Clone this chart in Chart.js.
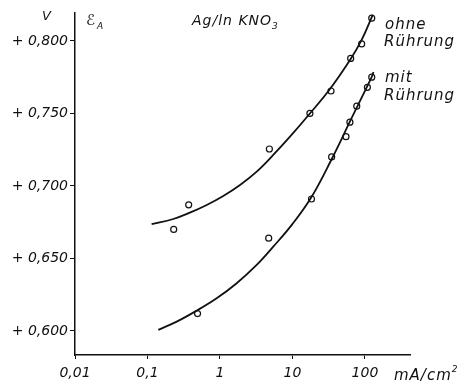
<!DOCTYPE html>
<html>
<head>
<meta charset="utf-8">
<script src="https://cdn.jsdelivr.net/npm/chart.js@4/dist/chart.umd.min.js"></script>
<style>
  html, body { margin: 0; padding: 0; background: #fff; }
  #wrap { width: 464px; height: 386px; }
</style>
</head>
<body>
<div id="wrap"><canvas id="chart" width="464" height="386"></canvas></div>
<script>
// measured points, ohne Rührung (x in mA/cm2, y in V)
const ohneX = [0.23, 0.37, 4.8, 17.4, 34, 63.5, 90, 124];
const ohneY = [0.670, 0.687, 0.7255, 0.750, 0.7655, 0.788, 0.798, 0.8157];

// measured points, mit Rührung
const mitX = [0.49, 4.7, 18.3, 34.7, 54.7, 62, 77, 108, 124];
const mitY = [0.612, 0.664, 0.691, 0.720, 0.734, 0.744, 0.755, 0.768, 0.775];

// drawn curves
const ohneCurveX = [0.114, 0.227, 0.385, 0.656, 1.11, 1.89, 3.21, 5.43, 9.24, 17.4, 32.9, 63.5, 90, 128];
const ohneCurveY = [0.6736, 0.6772, 0.6816, 0.6869, 0.6931, 0.7007, 0.7099, 0.7214, 0.734, 0.750, 0.7669, 0.7876, 0.8007, 0.818];
const mitCurveX = [0.141, 0.253, 0.452, 0.90, 1.70, 3.21, 5.43, 9.84, 18.3, 34.8, 65.6, 124, 131];
const mitCurveY = [0.6007, 0.6064, 0.6133, 0.6225, 0.6329, 0.6455, 0.6581, 0.6733, 0.6924, 0.7186, 0.7469, 0.7752, 0.7786];

// axis ticks
const xTicks = [0.01, 0.1, 1, 10, 100];
const xTickLabels = ['0,01', '0,1', '1', '10', '100'];
const yTicks = [0.600, 0.650, 0.700, 0.750, 0.800];
const yTickLabels = ['+ 0,600', '+ 0,650', '+ 0,700', '+ 0,750', '+ 0,800'];

const INK = '#111';
const FONT = 'DejaVu Sans';
const tickFont = { family: FONT, size: 14, style: 'italic' };

const toXY = (xs, ys) => xs.map((x, i) => ({ x: x, y: ys[i] }));

const labelsPlugin = {
  id: 'labels',
  afterDraw(chart) {
    const c = chart.ctx;
    c.save();
    c.fillStyle = INK;
    c.textBaseline = 'alphabetic';
    c.textAlign = 'left';
    const f = size => `italic ${size}px "${FONT}"`;

    c.font = f(13);
    c.fillText('V', 42, 20);

    c.font = f(15);
    c.fillText('\u2130', 86, 25);
    c.font = f(9);
    c.fillText('A', 97, 29);

    c.letterSpacing = '1px';
    c.font = f(14);
    c.fillText('Ag/ln KNO', 192, 25);
    let w = c.measureText('Ag/ln KNO').width;
    c.font = f(9);
    c.fillText('3', 192 + w, 29);

    c.font = f(15);
    c.fillText('ohne', 385, 29);
    c.fillText('Rührung', 384, 46);
    c.fillText('mit', 385, 82);
    c.fillText('Rührung', 384, 100);

    c.fillText('mA/cm', 394, 380);
    w = c.measureText('mA/cm').width;
    c.font = f(9);
    c.fillText('2', 394 + w, 372);
    c.restore();
  }
};

const curveStyle = {
  showLine: true,
  tension: 0.4,
  borderColor: INK,
  borderWidth: 1.8,
  pointRadius: 0,
  clip: false
};

const pointStyle = {
  pointRadius: 3,
  pointBorderWidth: 1.2,
  pointBorderColor: INK,
  pointBackgroundColor: '#fff'
};

new Chart(document.getElementById('chart'), {
  type: 'scatter',
  data: {
    datasets: [
      { data: toXY(ohneCurveX, ohneCurveY), ...curveStyle },
      { data: toXY(mitCurveX, mitCurveY), ...curveStyle },
      { data: toXY(ohneX, ohneY), ...pointStyle },
      { data: toXY(mitX, mitY), ...pointStyle }
    ]
  },
  options: {
    responsive: false,
    animation: false,
    layout: { padding: { left: 0, right: 54, top: 13, bottom: 0 } },
    plugins: {
      legend: { display: false },
      tooltip: { enabled: false }
    },
    scales: {
      x: {
        type: 'logarithmic',
        min: 0.01,
        max: 418,
        afterBuildTicks: s => { s.ticks = xTicks.map(v => ({ value: v })); },
        afterFit: s => { s.height = 31; },
        ticks: {
          autoSkip: false,
          maxRotation: 0,
          padding: 6,
          color: INK,
          font: tickFont,
          callback: (v, i) => xTickLabels[i]
        },
        grid: { drawOnChartArea: false, tickLength: 4, color: INK, lineWidth: 1 },
        border: { color: INK, width: 1.5 }
      },
      y: {
        type: 'linear',
        min: 0.5834,
        max: 0.8193,
        afterBuildTicks: s => { s.ticks = yTicks.map(v => ({ value: v })); },
        afterFit: s => { s.width = 75; },
        ticks: {
          padding: 2,
          color: INK,
          font: tickFont,
          callback: (v, i) => yTickLabels[i]
        },
        grid: { drawOnChartArea: false, tickLength: 5, color: INK, lineWidth: 1 },
        border: { color: INK, width: 1.5 }
      }
    }
  },
  plugins: [labelsPlugin]
});
</script>
</body>
</html>
